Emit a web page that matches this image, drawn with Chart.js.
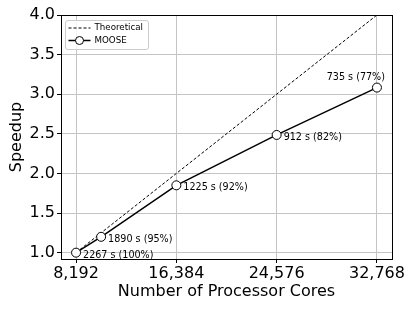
<!DOCTYPE html>
<html>
<head>
<meta charset="utf-8">
<script src="https://cdn.jsdelivr.net/npm/chart.js@4/dist/chart.umd.min.js"></script>
<style>
html,body{margin:0;padding:0;background:#fff;}
#wrap{width:415px;height:311px;position:relative;}
</style>
</head>
<body>
<div id="wrap"><canvas id="c" width="415" height="311"></canvas></div>
<script>
// ---- data ----
const cores = [8192, 10240, 16384, 24576, 32768];
const speedup = [1.0, 1.2, 1.85, 2.486, 3.084];
const times = [2267, 1890, 1225, 912, 735];
const efficiency = [100, 95, 92, 82, 77];
const theoreticalCores = [8192, 32768];
const theoreticalSpeedup = [1, 4];
const xTicks = [8192, 16384, 24576, 32768];
const yTicks = [1.0, 1.5, 2.0, 2.5, 3.0, 3.5, 4.0];
const seriesNames = ['Theoretical', 'MOOSE'];

const FONT = "'DejaVu Sans', sans-serif";

const framePlugin = {
  id: 'frame',
  afterDraw(chart) {
    const {ctx, chartArea: a} = chart;
    ctx.save();
    ctx.strokeStyle = '#000';
    ctx.lineWidth = 1;
    ctx.strokeRect(Math.round(a.left) + 0.5, Math.round(a.top) + 0.5,
      Math.round(a.right - a.left), Math.round(a.bottom - a.top));
    ctx.restore();
  }
};

const annotPlugin = {
  id: 'annot',
  afterDatasetsDraw(chart) {
    const {ctx} = chart;
    const xs = chart.scales.x, ys = chart.scales.y;
    ctx.save();
    ctx.fillStyle = '#000';
    ctx.font = '9.6px ' + FONT;
    ctx.textBaseline = 'middle';
    for (let i = 0; i < cores.length; i++) {
      const px = xs.getPixelForValue(cores[i]);
      const py = ys.getPixelForValue(speedup[i]);
      const label = times[i] + ' s (' + efficiency[i] + '%)';
      if (i === cores.length - 1) {
        ctx.textAlign = 'right';
        ctx.fillText(label, px + 8, py - 10);
      } else {
        ctx.textAlign = 'left';
        ctx.fillText(label, px + 7, py + 2.5);
      }
    }
    ctx.restore();
  }
};

const legendPlugin = {
  id: 'mlegend',
  afterDraw(chart) {
    const {ctx, chartArea: a} = chart;
    const x0 = a.left + 4.5, y0 = a.top + 5.5, w = 83, h = 29, r = 2.5;
    ctx.save();
    ctx.beginPath();
    ctx.moveTo(x0 + r, y0);
    ctx.lineTo(x0 + w - r, y0);
    ctx.arcTo(x0 + w, y0, x0 + w, y0 + r, r);
    ctx.lineTo(x0 + w, y0 + h - r);
    ctx.arcTo(x0 + w, y0 + h, x0 + w - r, y0 + h, r);
    ctx.lineTo(x0 + r, y0 + h);
    ctx.arcTo(x0, y0 + h, x0, y0 + h - r, r);
    ctx.lineTo(x0, y0 + r);
    ctx.arcTo(x0, y0, x0 + r, y0, r);
    ctx.closePath();
    ctx.fillStyle = 'rgba(255,255,255,0.8)';
    ctx.fill();
    ctx.strokeStyle = '#cccccc';
    ctx.lineWidth = 1;
    ctx.stroke();
    // Theoretical
    const l1 = y0 + 7.5, l2 = y0 + 20;
    ctx.strokeStyle = '#000';
    ctx.lineWidth = 1;
    ctx.setLineDash([3, 2]);
    ctx.beginPath(); ctx.moveTo(x0 + 3, l1); ctx.lineTo(x0 + 25, l1); ctx.stroke();
    ctx.setLineDash([]);
    ctx.lineWidth = 1.5;
    ctx.beginPath(); ctx.moveTo(x0 + 3, l2); ctx.lineTo(x0 + 25, l2); ctx.stroke();
    ctx.beginPath(); ctx.arc(x0 + 14, l2, 4, 0, Math.PI * 2);
    ctx.fillStyle = '#fff'; ctx.fill();
    ctx.lineWidth = 1; ctx.stroke();
    ctx.fillStyle = '#000';
    ctx.font = '8.7px ' + FONT;
    ctx.textAlign = 'left';
    ctx.textBaseline = 'middle';
    ctx.fillText(seriesNames[0], x0 + 29, l1);
    ctx.fillText(seriesNames[1], x0 + 29, l2);
    ctx.restore();
  }
};

new Chart(document.getElementById('c'), {
  type: 'scatter',
  data: {
    datasets: [
      {
        label: seriesNames[0],
        data: theoreticalCores.map((c, i) => ({x: c, y: theoreticalSpeedup[i]})),
        showLine: true,
        borderColor: '#000',
        borderWidth: 1,
        borderDash: [3, 2],
        pointRadius: 0,
        order: 1
      },
      {
        label: seriesNames[1],
        data: cores.map((c, i) => ({x: c, y: speedup[i]})),
        showLine: true,
        borderColor: '#000',
        borderWidth: 1.5,
        pointRadius: 4.5,
        pointBackgroundColor: '#fff',
        pointBorderColor: '#000',
        pointBorderWidth: 1,
        order: 0
      }
    ]
  },
  options: {
    responsive: false,
    animation: false,
    layout: {padding: {top: 15, right: 23, left: 0, bottom: 0}},
    plugins: {legend: {display: false}, tooltip: {enabled: false}},
    scales: {
      x: {
        type: 'linear',
        min: 6963, max: 33997,
        afterBuildTicks(s) { s.ticks = xTicks.map(v => ({value: v})); },
        afterFit(s) { s.height = 52; },
        grid: {color: '#c4c4c4', lineWidth: 1, tickColor: '#000', tickLength: 4},
        border: {display: true, color: '#000', width: 1},
        ticks: {
          font: {family: FONT, size: 16},
          color: '#000',
          padding: 1,
          maxRotation: 0,
          callback: v => v.toLocaleString('en-US')
        },
        title: {
          display: true,
          text: 'Number of Processor Cores',
          font: {family: FONT, size: 16},
          color: '#000',
          padding: {top: 0, bottom: 10}
        }
      },
      y: {
        type: 'linear',
        min: 0.92, max: 4.0,
        afterBuildTicks(s) { s.ticks = yTicks.map(v => ({value: v})); },
        afterFit(s) { s.width = 61; },
        grid: {color: '#c4c4c4', lineWidth: 1, tickColor: '#000', tickLength: 4},
        border: {display: true, color: '#000', width: 1},
        ticks: {
          font: {family: FONT, size: 16},
          color: '#000',
          padding: 2,
          callback: v => v.toFixed(1)
        },
        title: {
          display: true,
          text: 'Speedup',
          font: {family: FONT, size: 16},
          color: '#000',
          padding: {top: 7, bottom: 0}
        }
      }
    }
  },
  plugins: [framePlugin, annotPlugin, legendPlugin]
});
</script>
</body>
</html>
